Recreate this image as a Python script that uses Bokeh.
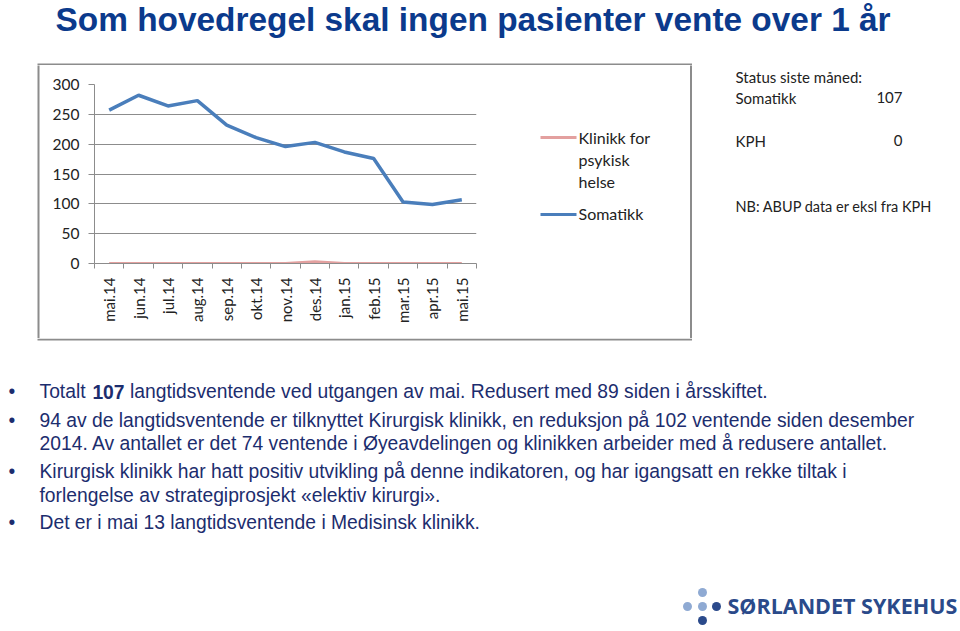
import math
from bokeh.plotting import figure
from bokeh.layouts import column, row
from bokeh.models import Range1d, FixedTicker, LinearAxis
from bokeh.core.properties import value
from bokeh.embed import file_html
from bokeh.resources import INLINE

# ---------------- data ----------------
months = ["mai.14", "jun.14", "jul.14", "aug.14", "sep.14", "okt.14", "nov.14",
          "des.14", "jan.15", "feb.15", "mar.15", "apr.15", "mai.15"]
somatikk = [257, 282, 264, 273, 232, 211, 196, 203, 187, 176, 103, 99, 107]
kph = [0, 0, 0, 0, 0, 0, 0, 3, 0, 0, 0, 0, 0]
y_ticks = [0, 50, 100, 150, 200, 250, 300]

title_text = "Som hovedregel skal ingen pasienter vente over 1 år"
legend_kph = ["Klinikk for", "psykisk", "helse"]
legend_som = "Somatikk"
status_lines = ["Status siste måned:", "Somatikk", "KPH", "NB: ABUP data er eksl fra KPH"]
status_values = ["107", "0"]
bullet_first = ["Totalt", "107",
                "langtidsventende ved utgangen av mai. Redusert med 89 siden i årsskiftet."]
bullet_lines = [
    "94 av de langtidsventende er tilknyttet Kirurgisk klinikk, en reduksjon på 102 ventende siden desember",
    "2014. Av antallet er det 74 ventende i Øyeavdelingen og klinikken arbeider med å redusere antallet.",
    "Kirurgisk klinikk har hatt positiv utvikling på denne indikatoren, og har igangsatt en rekke tiltak i",
    "forlengelse av strategiprosjekt «elektiv kirurgi».",
    "Det er i mai 13 langtidsventende i Medisinsk klinikk.",
]
logo_text = "SØRLANDET SYKEHUS"

# ---------------- layout (page pixels) ----------------
W, H = 960, 631
TOP_H = 65          # title strip: y 0..65
MID_B = 338         # middle strip: y 65..338
LEFT_W = 40         # left strip x 0..40
CHART_R = 500       # chart figure x 40..500
FL, FR, FT, FB = 94, 476, 84, 263   # plot frame

BOX = dict(l=38, t=64, r=690.5, b=339)
BORDER = "#8c8c8c"
SOM_C, KPH_C = "#4A7EBB", "#E3A09F"
NAVY = "#1c2d6e"


def canvas_fig(x0, x1, y0, y1):
    f = figure(width=int(x1 - x0), height=int(y1 - y0), output_backend="svg",
               toolbar_location=None, x_range=Range1d(x0, x1), y_range=Range1d(y1, y0),
               x_axis_location=None, y_axis_location=None, frame_align=False,
               min_border=0, min_border_left=0, min_border_right=0,
               min_border_top=0, min_border_bottom=0)
    f.outline_line_color = None
    f.grid.visible = False
    f.background_fill_color = "white"
    f.border_fill_color = "white"
    return f


def txt(f, x, y, t, size, font="Lato", color="#222222", align="left", style="normal"):
    f.text(x=[x], y=[y], text=[t], text_font=value(font), text_font_size=size,
           text_color=color, text_align=align, text_font_style=style,
           text_baseline="middle")


# ---- title strip ----
top = canvas_fig(0, W, 0, TOP_H)
txt(top, 55, 18.5, title_text, "33.4px", font="Liberation Sans", color="#0b3a8c", style="bold")
top.segment(x0=[BOX["l"] - 1], y0=[BOX["t"]], x1=[BOX["r"] + 1], y1=[BOX["t"]],
            line_color=BORDER, line_width=2)

# ---- left strip ----
left = canvas_fig(0, LEFT_W, TOP_H, MID_B)
left.segment(x0=[BOX["l"]], y0=[BOX["t"]], x1=[BOX["l"]], y1=[BOX["b"]],
             line_color=BORDER, line_width=2)

# ---- chart ----
xs = list(range(len(months)))
p = figure(width=CHART_R - LEFT_W, height=MID_B - TOP_H, output_backend="svg",
           toolbar_location=None, frame_align=False,
           x_range=Range1d(-0.5, len(months) - 0.5), y_range=Range1d(0, 300),
           x_axis_location=None, y_axis_location=None,
           min_border_left=FL - LEFT_W, min_border_right=CHART_R - FR,
           min_border_top=FT - TOP_H, min_border_bottom=MID_B - FB)
p.outline_line_color = None
p.background_fill_color = "white"
p.border_fill_color = "white"

yax = LinearAxis(ticker=FixedTicker(ticks=y_ticks))
yax.axis_line_color = BORDER
yax.major_tick_line_color = BORDER
yax.major_tick_out = 6
yax.major_tick_in = 0
yax.minor_tick_line_color = None
yax.major_label_standoff = 9
yax.major_label_text_font = "Lato"
yax.major_label_text_font_size = "15.5px"
yax.major_label_text_color = "#222222"
p.add_layout(yax, "left")

xax = LinearAxis(ticker=FixedTicker(ticks=xs,
                                    minor_ticks=[i - 0.5 for i in range(len(months) + 1)]))
xax.axis_line_color = BORDER
xax.major_tick_line_color = None
xax.major_tick_out = 0
xax.major_tick_in = 0
xax.minor_tick_line_color = BORDER
xax.minor_tick_out = 5
xax.minor_tick_in = 0
xax.major_label_overrides = {i: m for i, m in enumerate(months)}
xax.major_label_orientation = math.pi / 2
xax.major_label_standoff = 9
xax.major_label_text_font = "Lato"
xax.major_label_text_font_size = "15px"
xax.major_label_text_color = "#222222"
p.add_layout(xax, "below")

p.ygrid.ticker = FixedTicker(ticks=y_ticks)
p.ygrid.grid_line_color = BORDER
p.xgrid.grid_line_color = None

p.line(xs, kph, line_color=KPH_C, line_width=3)
p.line(xs, somatikk, line_color=SOM_C, line_width=3.5)

# ---- right strip: legend + status ----
right = canvas_fig(CHART_R, W, TOP_H, MID_B)
right.segment(x0=[BOX["r"]], y0=[BOX["t"]], x1=[BOX["r"]], y1=[BOX["b"]],
              line_color=BORDER, line_width=2)
right.segment(x0=[540, 540], y0=[137, 214], x1=[576, 576], y1=[137, 214],
              line_color=[KPH_C, SOM_C], line_width=3)
for t, yc in zip(legend_kph, [137, 159, 181]):
    txt(right, 578, yc, t, "16px")
txt(right, 578, 213, legend_som, "16px")

txt(right, 735, 76, status_lines[0], "15px")
txt(right, 735, 97, status_lines[1], "15px")
txt(right, 902, 97, status_values[0], "15px", align="right")
txt(right, 735, 140, status_lines[2], "15px")
txt(right, 902, 140, status_values[1], "15px", align="right")
txt(right, 735, 206, status_lines[3], "14.5px")

# ---- bottom strip: bullets + logo ----
bot = canvas_fig(0, W, MID_B, H)
bot.segment(x0=[BOX["l"] - 1], y0=[BOX["b"]], x1=[BOX["r"] + 1], y1=[BOX["b"]],
            line_color=BORDER, line_width=2)

fs = 19.3
bfs = f"{fs}px"
centers = [391, 420, 443, 471, 495, 522]
for i in [0, 1, 3, 5]:
    txt(bot, 8, centers[i], "•", bfs, font="Liberation Sans", color=NAVY)
txt(bot, 39, centers[0], bullet_first[0], bfs, font="Liberation Sans", color=NAVY)
txt(bot, 39 + 2.74 * fs, centers[0], bullet_first[1], bfs, font="Liberation Sans",
    color=NAVY, style="bold")
txt(bot, 39 + (2.74 + 1.668 + 0.278) * fs, centers[0], bullet_first[2], bfs,
    font="Liberation Sans", color=NAVY)
for i, t in enumerate(bullet_lines):
    txt(bot, 39, centers[i + 1], t, bfs, font="Liberation Sans", color=NAVY)

light, dark = "#8FAAD3", "#2B4A8B"
bot.scatter(x=[687, 702, 702, 716, 702], y=[606, 606, 592, 606, 620], size=9,
            marker="circle", fill_color=[light, light, light, dark, dark], line_color=None)
txt(bot, 727, 605, logo_text, "21.5px", font="Open Sans", color="#2A4A8A", style="bold")

layout = column(top, row(left, p, right), bot)
open("out.html", "w").write(file_html(layout, INLINE))
